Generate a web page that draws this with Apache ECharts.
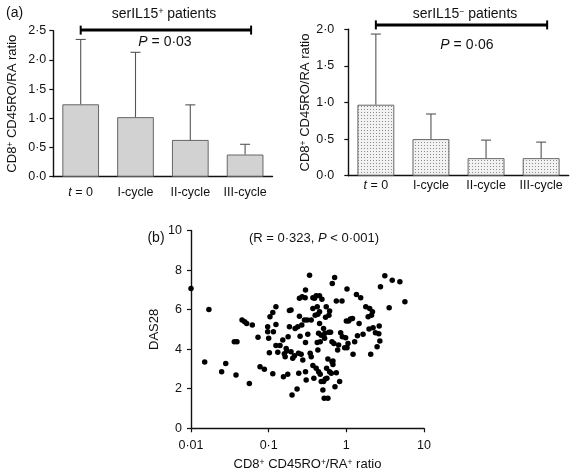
<!DOCTYPE html>
<html>
<head>
<meta charset="utf-8">
<script src="https://cdn.jsdelivr.net/npm/echarts@6/dist/echarts.min.js"></script>
<style>html,body{margin:0;padding:0;background:#fff}#c{width:572px;height:473px}</style>
</head>
<body>
<div id="c"></div>
<script>
const categories = ['t = 0', 'I-cycle', 'II-cycle', 'III-cycle'];
const posMean = [1.24, 1.02, 0.63, 0.38];
const posUpper = [2.35, 2.13, 1.23, 0.555];
const negMean = [0.97, 0.50, 0.24, 0.24];
const negUpper = [1.935, 0.843, 0.486, 0.459];
const xTickLabels = {'0.01': '0·01', '0.1': '0·1', '1': '1', '10': '10'};
const scatterX = [0.010,0.0170,0.0150,0.0280,0.0248,0.0380,0.0361,0.0391,0.0564,0.0454,
0.0491,0.0521,0.0616,0.0729,0.0774,0.0880,0.0971,0.0971,0.100,0.102,
0.104,0.113,0.115,0.113,0.124,0.124,0.124,0.131,0.140,0.152,
0.155,0.159,0.163,0.168,0.171,0.176,0.178,0.185,0.185,0.194,
0.194,0.200,0.204,0.215,0.219,0.232,0.242,0.237,0.244,0.249,
0.249,0.254,0.262,0.267,0.270,0.275,0.289,0.295,0.298,0.298,
0.298,0.304,0.313,0.319,0.336,0.342,0.353,0.353,0.371,0.371,
0.371,0.382,0.390,0.397,0.409,0.409,0.422,0.430,0.422,0.430,
0.439,0.439,0.452,0.452,0.452,0.461,0.461,0.475,0.485,0.475,
0.499,0.509,0.509,0.519,0.530,0.525,0.535,0.540,0.551,0.557,
0.562,0.579,0.579,0.597,0.597,0.609,0.609,0.627,0.640,0.653,
0.672,0.672,0.653,0.659,0.693,0.707,0.714,0.743,0.743,0.773,
0.796,0.820,0.845,0.879,0.888,0.952,0.980,1.00,1.02,1.02,
1.05,1.07,1.13,1.20,1.22,1.28,1.35,1.39,1.46,1.53,
1.64,1.78,1.91,1.96,2.00,2.06,2.11,2.17,2.21,2.37,
2.49,2.65,2.70,2.75,3.13,3.56,3.90,4.89,5.68,2.62];
const scatterY = [7.07,6.01,3.35,3.28,2.86,2.69,4.38,4.38,2.27,5.47,
5.39,5.30,5.22,4.60,3.11,2.98,5.13,4.88,4.55,3.82,
5.64,5.86,4.88,2.76,6.14,5.25,4.18,3.84,4.18,4.46,
2.61,3.77,3.62,4.04,3.91,2.73,4.63,5.13,5.96,5.98,
3.87,1.68,3.54,3.67,5.05,1.99,3.79,5.13,2.78,6.57,
5.67,4.66,3.74,5.22,6.65,3.45,5.47,6.60,6.99,4.34,
2.86,2.44,5.47,4.76,7.74,3.79,3.62,5.47,6.60,6.06,
3.17,2.53,6.57,5.72,3.03,6.70,6.14,5.76,4.34,3.96,
4.80,2.86,5.89,6.70,5.30,4.38,2.73,2.36,6.53,4.71,
1.94,2.36,5.05,1.52,4.80,4.55,2.49,5.61,6.14,3.03,
2.53,3.50,1.52,5.72,4.85,2.86,5.93,4.85,2.78,3.37,
3.40,3.23,4.38,7.32,4.29,7.63,2.10,6.43,2.81,3.96,
4.21,2.36,4.83,6.43,4.63,4.07,4.58,5.42,7.04,4.07,
4.29,5.42,5.52,5.55,3.74,4.38,6.77,4.68,5.30,6.60,
4.75,6.14,5.64,5.02,6.06,3.74,5.72,5.89,5.08,4.83,
4.12,5.17,4.41,7.15,7.71,6.09,7.49,7.41,6.40,4.78];

const FONT = 'Liberation Sans, Arial, sans-serif';
const INK = '#111';
const TICK = 12.5;

// dotted pattern for serIL15- bars
const pat = document.createElement('canvas');
pat.width = 3; pat.height = 3;
const pctx = pat.getContext('2d');
pctx.fillStyle = '#f2f2f2'; pctx.fillRect(0, 0, 3, 3);
pctx.fillStyle = '#8c8c8c'; pctx.fillRect(1, 1, 1, 1);

const richSup = {
  s: {fontSize: 8.5, fontFamily: FONT, color: INK, verticalAlign: 'top', lineHeight: 8}
};
const richItal = {i: {fontStyle: 'italic', fontSize: 14, fontFamily: FONT, fill: INK}};
const richItal13 = {i: {fontStyle: 'italic', fontSize: 13, fontFamily: FONT, fill: INK}};

function catAxis(gi, margin) {
  return {
    type: 'category', gridIndex: gi, data: categories,
    axisLine: {lineStyle: {color: INK, width: 1.4}},
    axisTick: {alignWithLabel: true, interval: 0, length: 4, lineStyle: {color: INK, width: 1.2}},
    axisLabel: {
      interval: 0, hideOverlap: false,
      color: INK, fontSize: TICK, fontFamily: FONT, margin: margin,
      formatter: v => v === 't = 0' ? '{i|t} = 0' : v,
      rich: {i: {fontStyle: 'italic', fontSize: TICK, fontFamily: FONT, color: INK}}
    },
    splitLine: {show: false}
  };
}
function valAxis(gi, max, interval, margin, nameGap) {
  return {
    type: 'value', gridIndex: gi, min: 0, max: max, interval: interval,
    name: 'CD8{s|+} CD45RO/RA ratio', nameLocation: 'middle', nameGap: nameGap,
    nameTextStyle: {color: INK, fontSize: 13, fontFamily: FONT, rich: richSup},
    axisLine: {show: true, lineStyle: {color: INK, width: 1.4}},
    axisTick: {show: true, length: 4, lineStyle: {color: INK, width: 1.2}},
    axisLabel: {color: INK, fontSize: TICK, fontFamily: FONT, margin: margin,
      formatter: v => v.toFixed(1).replace('.', '·')},
    splitLine: {show: false}
  };
}

function errItem(params, api) {
  const base = api.coord([api.value(0), api.value(1)]);
  const top = api.coord([api.value(0), api.value(2)]);
  const st = {stroke: '#555', lineWidth: 1.1};
  return {type: 'group', children: [
    {type: 'line', shape: {x1: base[0], y1: base[1], x2: top[0], y2: top[1]}, style: st},
    {type: 'line', shape: {x1: top[0] - 5, y1: top[1], x2: top[0] + 5, y2: top[1]}, style: st}
  ]};
}
function bracketItem(params, api) {
  const a = api.coord([api.value(0), api.value(2)]);
  const b = api.coord([api.value(1), api.value(2)]);
  const x2 = b[0] + 6;
  const st = {stroke: '#000', lineWidth: 3};
  return {type: 'group', children: [
    {type: 'line', shape: {x1: a[0], y1: a[1], x2: x2, y2: b[1]}, style: st},
    {type: 'line', shape: {x1: a[0], y1: a[1] - 4.5, x2: a[0], y2: a[1] + 4.5}, style: {stroke: '#000', lineWidth: 2}},
    {type: 'line', shape: {x1: x2, y1: b[1] - 4.5, x2: x2, y2: b[1] + 4.5}, style: {stroke: '#000', lineWidth: 2}}
  ]};
}

const chart = echarts.init(document.getElementById('c'), null, {renderer: 'canvas'});
const option = {
  animation: false,
  backgroundColor: '#fff',
  grid: [
    {left: 53.3, top: 30.7, width: 219.2, height: 146},
    {left: 348.3, top: 29.3, width: 220.4, height: 146.4},
    {left: 191, top: 230.5, width: 233, height: 197.8}
  ],
  xAxis: [
    catAxis(0, 9),
    catAxis(1, 3),
    {
      type: 'log', logBase: 10, gridIndex: 2, min: 0.01, max: 10,
      name: 'CD8{s|+} CD45RO{s|+}/RA{s|+} ratio', nameLocation: 'middle', nameGap: 30,
      nameTextStyle: {color: INK, fontSize: 13, fontFamily: FONT, rich: richSup},
      axisLine: {lineStyle: {color: INK, width: 1.4}},
      axisTick: {length: 4, lineStyle: {color: INK, width: 1.2}},
      axisLabel: {color: INK, fontSize: TICK, fontFamily: FONT, margin: 11,
        formatter: v => xTickLabels[String(v)] !== undefined ? xTickLabels[String(v)] : ''},
      splitLine: {show: false}, minorTick: {show: false}
    }
  ],
  yAxis: [
    valAxis(0, 2.5, 0.5, 7, 34),
    valAxis(1, 2, 0.5, 14, 31),
    {
      type: 'value', gridIndex: 2, min: 0, max: 10, interval: 2,
      name: 'DAS28', nameLocation: 'middle', nameGap: 30,
      nameTextStyle: {color: INK, fontSize: 13, fontFamily: FONT},
      axisLine: {show: true, lineStyle: {color: INK, width: 1.4}},
      axisTick: {show: true, length: 4, lineStyle: {color: INK, width: 1.2}},
      axisLabel: {color: INK, fontSize: TICK, fontFamily: FONT, margin: 9},
      splitLine: {show: false}
    }
  ],
  series: [
    {type: 'bar', xAxisIndex: 0, yAxisIndex: 0, data: posMean, barWidth: '67%',
      itemStyle: {color: '#d2d2d2', borderColor: '#666', borderWidth: 1}},
    {type: 'custom', xAxisIndex: 0, yAxisIndex: 0, renderItem: errItem, z: 3,
      data: posMean.map((m, i) => [i, m, posUpper[i]])},
    {type: 'custom', xAxisIndex: 0, yAxisIndex: 0, renderItem: bracketItem, clip: false, z: 4,
      data: [[0, 3, 2.51]]},
    {type: 'bar', xAxisIndex: 1, yAxisIndex: 1, data: negMean, barWidth: '67%',
      itemStyle: {color: {image: pat, repeat: 'repeat'}, borderColor: '#666', borderWidth: 1}},
    {type: 'custom', xAxisIndex: 1, yAxisIndex: 1, renderItem: errItem, z: 3,
      data: negMean.map((m, i) => [i, m, negUpper[i]])},
    {type: 'custom', xAxisIndex: 1, yAxisIndex: 1, renderItem: bracketItem, clip: false, z: 4,
      data: [[0, 3, 2.06]]},
    {type: 'scatter', xAxisIndex: 2, yAxisIndex: 2, symbolSize: 5.5,
      itemStyle: {color: '#000', opacity: 1},
      data: scatterX.map((x, i) => [x, scatterY[i]])}
  ],
  graphic: [
    {type: 'text', left: 6, top: 6, style: {text: '(a)', font: '14px ' + FONT, fill: INK}},
    {type: 'text', x: 164, y: 14, style: {text: 'serIL15{s|+} patients', font: '14px ' + FONT, fill: INK,
      align: 'center', verticalAlign: 'middle', rich: richSup}},
    {type: 'text', x: 165, y: 42, style: {text: '{i|P} = 0·03', font: '14px ' + FONT, fill: INK,
      align: 'center', verticalAlign: 'middle', rich: richItal}},
    {type: 'text', x: 465, y: 14, style: {text: 'serIL15{s|−} patients', font: '14px ' + FONT, fill: INK,
      align: 'center', verticalAlign: 'middle', rich: richSup}},
    {type: 'text', x: 467, y: 45, style: {text: '{i|P} = 0·06', font: '14px ' + FONT, fill: INK,
      align: 'center', verticalAlign: 'middle', rich: richItal}},
    {type: 'text', x: 156, y: 238, style: {text: '(b)', font: '14px ' + FONT, fill: INK,
      align: 'center', verticalAlign: 'middle'}},
    {type: 'text', x: 314, y: 238, style: {text: '(R = 0·323, {i|P} < 0·001)', font: '13px ' + FONT, fill: INK,
      align: 'center', verticalAlign: 'middle', rich: richItal13}}
  ]
};
chart.setOption(option);
</script>
</body>
</html>
